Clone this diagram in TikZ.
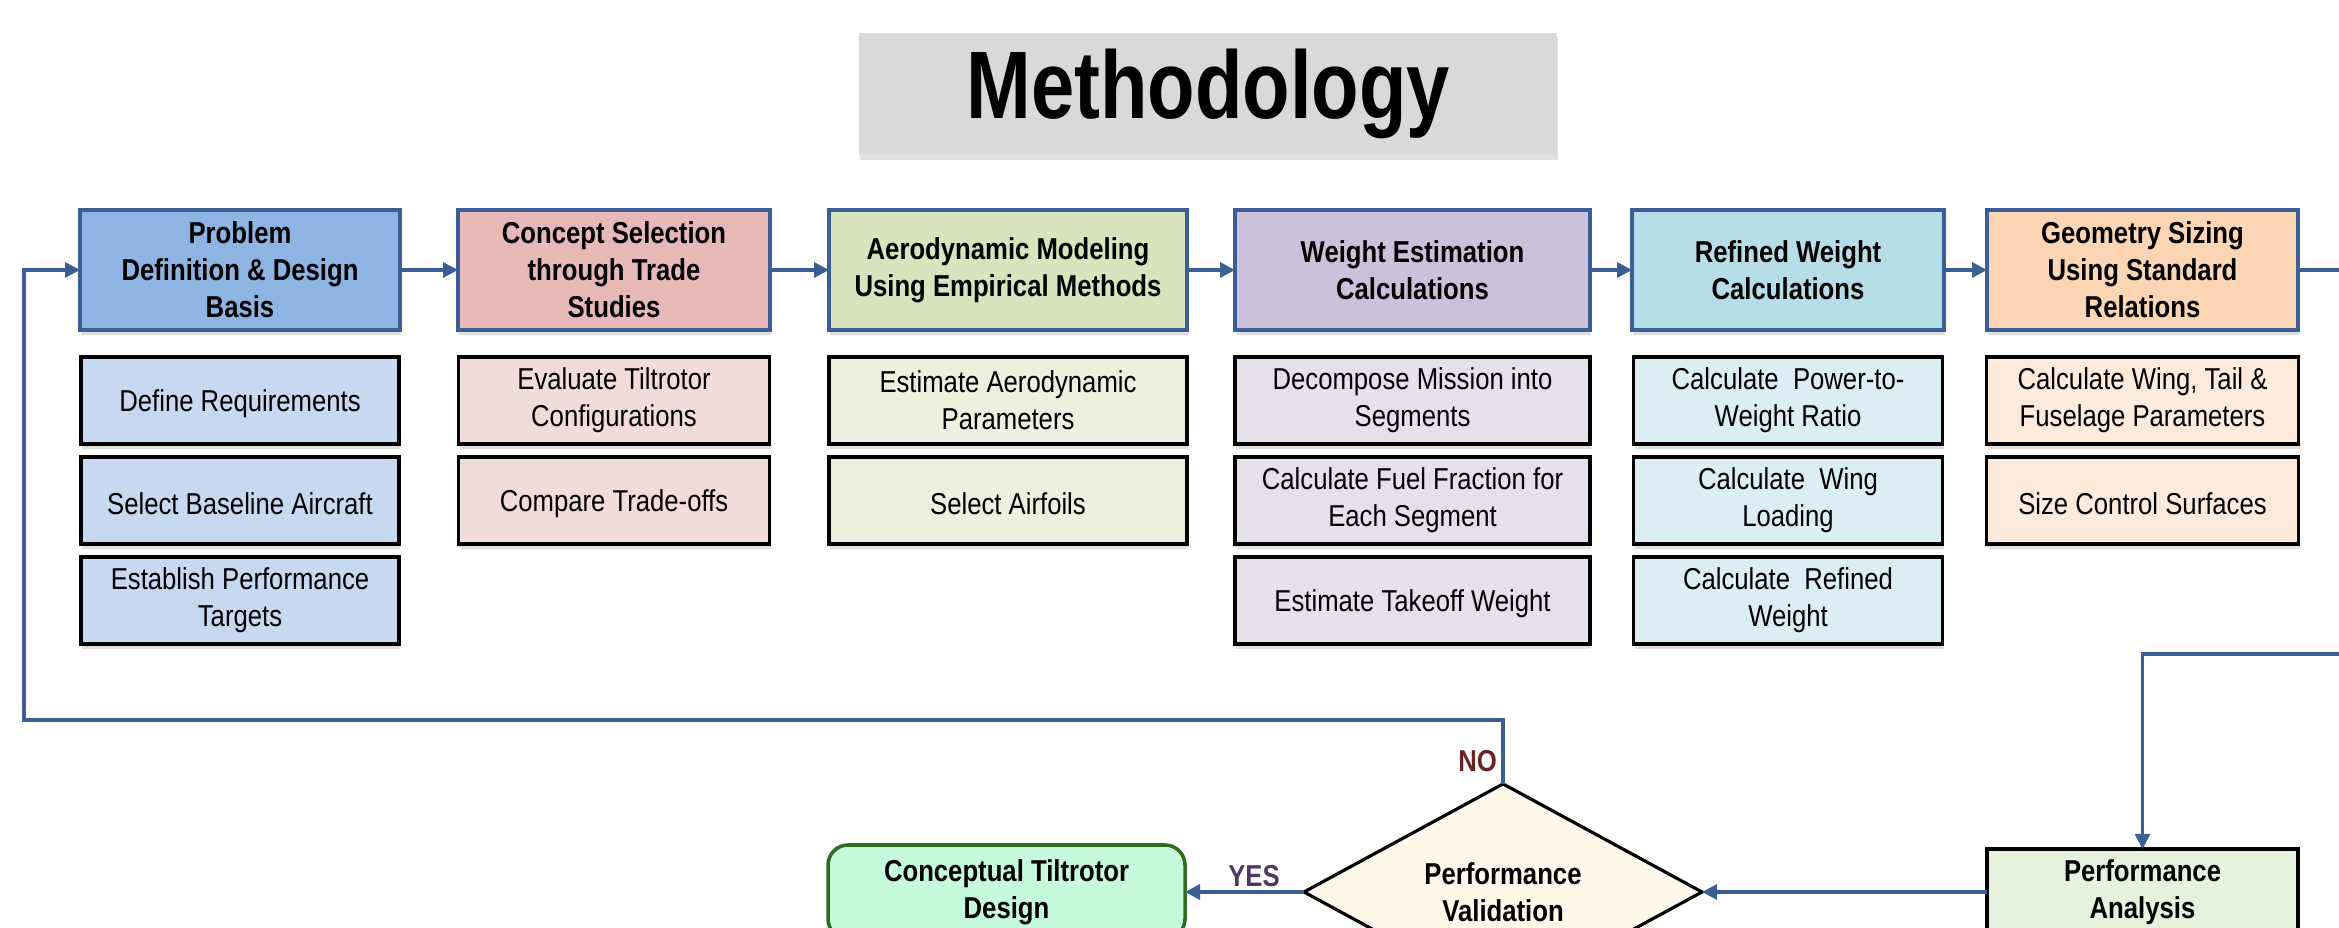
\documentclass[tikz,border=0pt]{standalone}
\usepackage{fontspec}
\setmainfont[FakeStretch=0.85]{Liberation Sans}
\newfontfamily\titlefont[FakeStretch=0.81]{Liberation Sans}
\usetikzlibrary{arrows.meta,positioning,shapes.geometric,shadows}
\definecolor{clLine}{HTML}{3B5E94}
\definecolor{clTitle}{HTML}{D9D9D9}
\definecolor{clProblem}{HTML}{8EB4E3}
\definecolor{clProblemSub}{HTML}{C6D9F1}
\definecolor{clConcept}{HTML}{E6B9B8}
\definecolor{clConceptSub}{HTML}{F2DCDB}
\definecolor{clAero}{HTML}{D7E4BD}
\definecolor{clAeroSub}{HTML}{EBF1DE}
\definecolor{clWeight}{HTML}{CCC1DA}
\definecolor{clWeightSub}{HTML}{E6E0EC}
\definecolor{clRefined}{HTML}{B7DEE8}
\definecolor{clRefinedSub}{HTML}{DBEEF4}
\definecolor{clGeometry}{HTML}{FCD5B5}
\definecolor{clGeometrySub}{HTML}{FDEADA}
\definecolor{clCheck}{HTML}{FEF8EA}
\definecolor{clFinal}{HTML}{C6FADC}
\definecolor{clFinalLine}{HTML}{2E6B1F}
\definecolor{clAnalysis}{HTML}{E6F1DE}
\definecolor{clNo}{HTML}{6B2222}
\definecolor{clYes}{HTML}{4B3A63}
\tikzset{
  box/.style={rectangle, draw, align=center, inner sep=2pt, outer sep=0pt,
              execute at begin node={\rule{0pt}{8pt}},
              font=\fontsize{8.6}{10.5}\selectfont},
  head/.style={box, draw=clLine, line width=1pt, minimum height=12mm,
               font=\fontsize{8.6}{10.5}\selectfont\bfseries,
               drop shadow={shadow xshift=0.3pt, shadow yshift=-1.5pt, opacity=0.25}},
  sub/.style={box, draw=black, line width=1.1pt, minimum height=8.7mm,
              drop shadow={shadow xshift=0.3pt, shadow yshift=-1.5pt, opacity=0.25}},
  check/.style={diamond, draw=black, line width=0.9pt, fill=clCheck, inner sep=0pt,
                outer sep=0pt, align=center, minimum width=39.8mm, minimum height=21mm,
                execute at begin node={\rule{0pt}{8pt}},
                font=\fontsize{8.6}{10.5}\selectfont\bfseries},
  final/.style={box, rounded corners=2mm, draw=clFinalLine, line width=1pt, fill=clFinal,
                font=\fontsize{8.6}{10.5}\selectfont\bfseries},
  flow/.style={-{Triangle[length=1.5mm, width=1.5mm]}, draw=clLine, line width=0.9pt},
  flowlabel/.style={font=\fontsize{8.6}{10.5}\selectfont\bfseries, inner sep=1pt},
}
\begin{document}
\begin{tikzpicture}
  \useasboundingbox (0,0) rectangle (23.39,-9.28);
  \clip (0,0) rectangle (23.39,-9.28);
  \node[fill=clTitle, minimum width=69.8mm, minimum height=12.2mm,
        drop shadow={shadow xshift=0.3pt, shadow yshift=-1.5pt, opacity=0.25},
        font=\titlefont\fontsize{27.3}{30}\selectfont\bfseries] (title) at (12.08,-0.94) {Methodology};
  % top row
  \node[head, fill=clProblem, minimum width=32mm] (prob) at (2.40,-2.70) {Problem\\Definition \& Design\\Basis};
  \node[head, fill=clConcept, minimum width=31.2mm, right=5.8mm of prob] (conc) {Concept Selection\\through Trade\\Studies};
  \node[head, fill=clAero, minimum width=35.8mm, right=5.9mm of conc] (aero) {Aerodynamic Modeling\\Using Empirical Methods};
  \node[head, fill=clWeight, minimum width=35.5mm, right=4.8mm of aero] (wgt) {Weight Estimation\\Calculations};
  \node[head, fill=clRefined, minimum width=31.2mm, right=4.2mm of wgt] (ref) {Refined Weight\\Calculations};
  \node[head, fill=clGeometry, minimum width=31.1mm, right=4.3mm of ref] (geo) {Geometry Sizing\\Using Standard\\Relations};
  % sub steps
  \node[sub, fill=clProblemSub, minimum width=31.8mm, below=2.7mm of prob] (prob1) {Define Requirements};
  \node[sub, fill=clProblemSub, minimum width=31.8mm, below=1.3mm of prob1] (prob2) {Select Baseline Aircraft};
  \node[sub, fill=clProblemSub, minimum width=31.8mm, below=1.3mm of prob2] (prob3) {Establish Performance\\Targets};
  \node[sub, fill=clConceptSub, minimum width=31.1mm, below=2.7mm of conc] (conc1) {Evaluate Tiltrotor\\Configurations};
  \node[sub, fill=clConceptSub, minimum width=31.1mm, below=1.3mm of conc1] (conc2) {Compare Trade-offs};
  \node[sub, fill=clAeroSub, minimum width=35.8mm, below=2.7mm of aero] (aero1) {Estimate Aerodynamic\\Parameters};
  \node[sub, fill=clAeroSub, minimum width=35.8mm, below=1.3mm of aero1] (aero2) {Select Airfoils};
  \node[sub, fill=clWeightSub, minimum width=35.5mm, below=2.7mm of wgt] (wgt1) {Decompose Mission into\\Segments};
  \node[sub, fill=clWeightSub, minimum width=35.5mm, below=1.3mm of wgt1] (wgt2) {Calculate Fuel Fraction for\\Each Segment};
  \node[sub, fill=clWeightSub, minimum width=35.5mm, below=1.3mm of wgt2] (wgt3) {Estimate Takeoff Weight};
  \node[sub, fill=clRefinedSub, minimum width=30.9mm, below=2.7mm of ref] (ref1) {Calculate~ Power-to-\\Weight Ratio};
  \node[sub, fill=clRefinedSub, minimum width=30.9mm, below=1.3mm of ref1] (ref2) {Calculate~ Wing\\Loading};
  \node[sub, fill=clRefinedSub, minimum width=30.9mm, below=1.3mm of ref2] (ref3) {Calculate~ Refined\\Weight};
  \node[sub, fill=clGeometrySub, minimum width=31.2mm, below=2.7mm of geo] (geo1) {Calculate Wing, Tail \&\\Fuselage Parameters};
  \node[sub, fill=clGeometrySub, minimum width=31.2mm, below=1.3mm of geo1] (geo2) {Size Control Surfaces};
  % lower loop
  \node[check] (chk) at (15.03,-8.92) {Performance\\Validation};
  \node[final, minimum width=35.7mm, minimum height=9.4mm] (fin) at (10.065,-8.92) {Conceptual Tiltrotor\\Design};
  \node[sub, fill=clAnalysis, minimum width=31.1mm, minimum height=8.6mm] (pa) at (21.425,-8.92) {\bfseries Performance\\\bfseries Analysis};
  \coordinate (turn) at (24.2,-6.54);
  \coordinate (back) at (0.24,-7.20);
  \foreach \a/\b in {prob/conc, conc/aero, aero/wgt, wgt/ref, ref/geo}
    \draw[flow] (\a) -- (\b);
  \draw[flow] (geo.east) -| (turn) -| (pa.north);
  \draw[flow] (pa) -- (chk);
  \draw[flow] (chk) -- node[flowlabel, above, pos=0.42, text=clYes] {YES} (fin);
  \draw[flow] (chk.north) |- (back) |- (prob.west);
  \node[flowlabel, text=clNo, anchor=south east] at ([shift={(-0.02,0.08)}]chk.north) {NO};
\end{tikzpicture}
\end{document}
